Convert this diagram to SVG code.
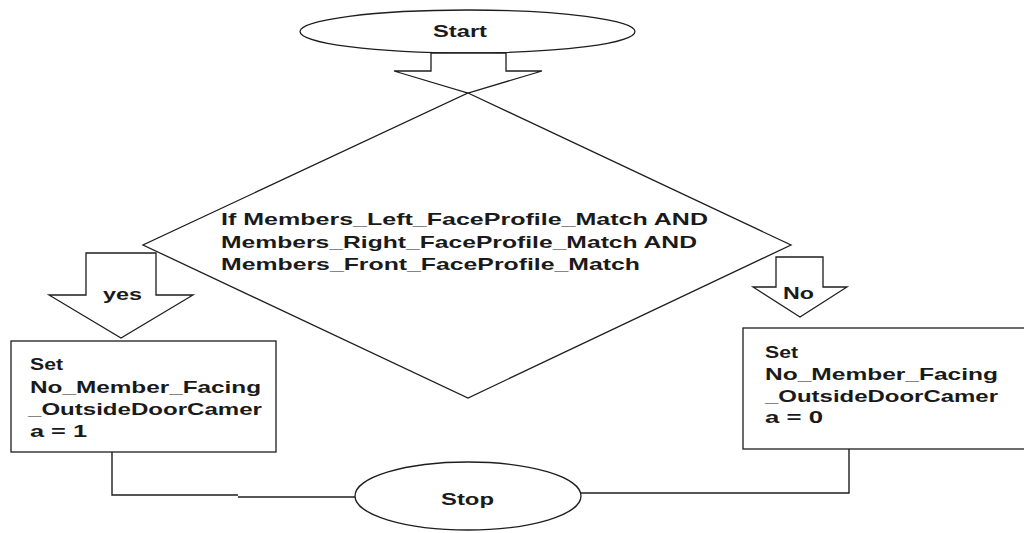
<svg xmlns="http://www.w3.org/2000/svg" width="1024" height="533" viewBox="0 0 1024 533">
<style>
.s{fill:#fff;stroke:#1e1e1e;stroke-width:1.3}
.c{fill:none;stroke:#1e1e1e;stroke-width:1.4}
.t{font-family:"Liberation Sans",Arial,sans-serif;font-weight:bold;font-size:16.5px;fill:#1a1a1a}
</style>
<rect width="1024" height="533" fill="#fff"/>
<g id="connectors">
<polyline class="c" points="112,452 112,495 238,495"/>
<line class="c" x1="238" y1="497" x2="362" y2="497"/>
<polyline class="c" points="849,449 849,493 572,493"/>
</g>
<g id="start">
<ellipse class="s" cx="467.5" cy="31.5" rx="167.5" ry="21.5"/>
<text class="t" x="433" y="37" textLength="54" lengthAdjust="spacingAndGlyphs">Start</text>
</g>
<g id="arrow-start">
<polygon class="s" points="431,53 506,53 506,71 542,71 468,93 394,71 431,71"/>
</g>
<g id="arrow-yes">
<polygon class="s" points="86,253 156,253 156,295 193,295 121,338 49,295 86,295"/>
<text class="t" x="103" y="300" textLength="39" lengthAdjust="spacingAndGlyphs">yes</text>
</g>
<g id="arrow-no">
<polygon class="s" points="776,257 823,257 823,287 847,287 800,317 753,287 776,287"/>
<text class="t" x="783" y="299" textLength="31" lengthAdjust="spacingAndGlyphs">No</text>
</g>
<g id="decision">
<polygon class="s" points="468,93 791,245 468,398 143,245"/>
<text class="t" x="221" y="225" textLength="487" lengthAdjust="spacingAndGlyphs">If Members_Left_FaceProfile_Match AND</text>
<text class="t" x="221" y="248" textLength="476" lengthAdjust="spacingAndGlyphs">Members_Right_FaceProfile_Match AND</text>
<text class="t" x="221" y="270" textLength="419" lengthAdjust="spacingAndGlyphs">Members_Front_FaceProfile_Match</text>
</g>
<g id="set-yes">
<rect class="s" x="11" y="341" width="265" height="111"/>
<text class="t" x="30" y="370" textLength="33" lengthAdjust="spacingAndGlyphs">Set</text>
<text class="t" x="30" y="393" textLength="231" lengthAdjust="spacingAndGlyphs">No_Member_Facing</text>
<text class="t" x="28" y="415" textLength="234" lengthAdjust="spacingAndGlyphs">_OutsideDoorCamer</text>
<text class="t" x="30" y="437" textLength="57" lengthAdjust="spacingAndGlyphs">a = 1</text>
</g>
<g id="set-no">
<rect class="s" x="743" y="328" width="290" height="121"/>
<text class="t" x="765" y="358" textLength="33" lengthAdjust="spacingAndGlyphs">Set</text>
<text class="t" x="765" y="380" textLength="233" lengthAdjust="spacingAndGlyphs">No_Member_Facing</text>
<text class="t" x="765" y="402" textLength="233" lengthAdjust="spacingAndGlyphs">_OutsideDoorCamer</text>
<text class="t" x="765" y="423" textLength="58" lengthAdjust="spacingAndGlyphs">a = 0</text>
</g>
<g id="stop">
<ellipse class="s" cx="468" cy="496" rx="113" ry="34"/>
<text class="t" x="441" y="505" textLength="53" lengthAdjust="spacingAndGlyphs">Stop</text>
</g>
</svg>
